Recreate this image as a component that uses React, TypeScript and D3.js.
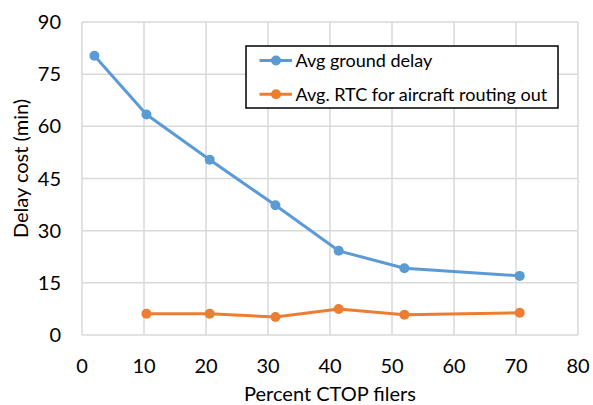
import React from "react";
import * as d3 from "d3";

const percentFilers = [2.0, 10.4, 20.6, 31.2, 41.4, 52.0, 70.6];
const groundDelay = [80.3, 63.4, 50.4, 37.3, 24.2, 19.2, 17.0];
const rtcPercent = [10.4, 20.6, 31.2, 41.4, 52.0, 70.6];
const rtcValues = [6.1, 6.1, 5.2, 7.5, 5.8, 6.4];
const xTicks = [0, 10, 20, 30, 40, 50, 60, 70, 80];
const yTicks = [0, 15, 30, 45, 60, 75, 90];
const seriesNames = ["Avg ground delay", "Avg. RTC for aircraft routing out"];
const seriesColors = ["#5b9bd5", "#ed7d31"];

const W = 593;
const H = 405;
const FONT = "Lato, 'Open Sans', sans-serif";

export default function App() {
  const x = d3.scaleLinear().domain([0, 80]).range([82, 578]);
  const y = d3.scaleLinear().domain([0, 90]).range([335, 22]);
  const line = d3
    .line<[number, number]>()
    .x((d) => x(d[0]))
    .y((d) => y(d[1]));
  const s1: [number, number][] = percentFilers.map((p, i) => [p, groundDelay[i]]);
  const s2: [number, number][] = rtcPercent.map((p, i) => [p, rtcValues[i]]);
  const series = [s1, s2];

  const lg = { x: 246, y: 46, w: 312, h: 62 };

  return (
    <svg
      width={W}
      height={H}
      style={{ position: "absolute", left: 0, top: 0, background: "#fff" }}
      fontFamily={FONT}
    >
      <rect x={0} y={0} width={W} height={H} fill="#fff" />
      {xTicks.map((t) => (
        <line key={"gx" + t} x1={x(t)} x2={x(t)} y1={y(90)} y2={y(0)} stroke="#d9d9d9" strokeWidth={1.5} />
      ))}
      {yTicks.map((t) => (
        <line key={"gy" + t} x1={x(0)} x2={x(80)} y1={y(t)} y2={y(t)} stroke="#d9d9d9" strokeWidth={1.5} />
      ))}
      {yTicks.map((t) => (
        <text key={"ty" + t} x={61} y={y(t)} dy="0.35em" textAnchor="end" fontSize={20} fill="#000">
          {t}
        </text>
      ))}
      {xTicks.map((t) => (
        <text key={"tx" + t} x={x(t)} y={373} textAnchor="middle" fontSize={20} fill="#000">
          {t}
        </text>
      ))}
      <text x={(x(0) + x(80)) / 2} y={401} textAnchor="middle" fontSize={20} fill="#000">
        Percent CTOP filers
      </text>
      <text
        transform={`translate(27.5,168.5) rotate(-90)`}
        textAnchor="middle"
        fontSize={20}
        fill="#000"
      >
        Delay cost (min)
      </text>
      {series.map((s, i) => (
        <g key={"s" + i}>
          <path d={line(s) || ""} fill="none" stroke={seriesColors[i]} strokeWidth={3} strokeLinejoin="round" />
          {s.map((d, j) => (
            <circle key={j} cx={x(d[0])} cy={y(d[1])} r={5} fill={seriesColors[i]} />
          ))}
        </g>
      ))}
      <rect x={lg.x} y={lg.y} width={lg.w} height={lg.h} fill="#fff" stroke="#000" strokeWidth={1.5} />
      {seriesNames.map((n, i) => {
        const cy = i === 0 ? 60.5 : 94.3;
        return (
          <g key={"lg" + i}>
            <line x1={259.5} x2={292} y1={cy} y2={cy} stroke={seriesColors[i]} strokeWidth={3} />
            <circle cx={276} cy={cy} r={5} fill={seriesColors[i]} />
            <text x={295.5} y={cy} dy="0.35em" fontSize={18} fill="#000">
              {n}
            </text>
          </g>
        );
      })}
    </svg>
  );
}
